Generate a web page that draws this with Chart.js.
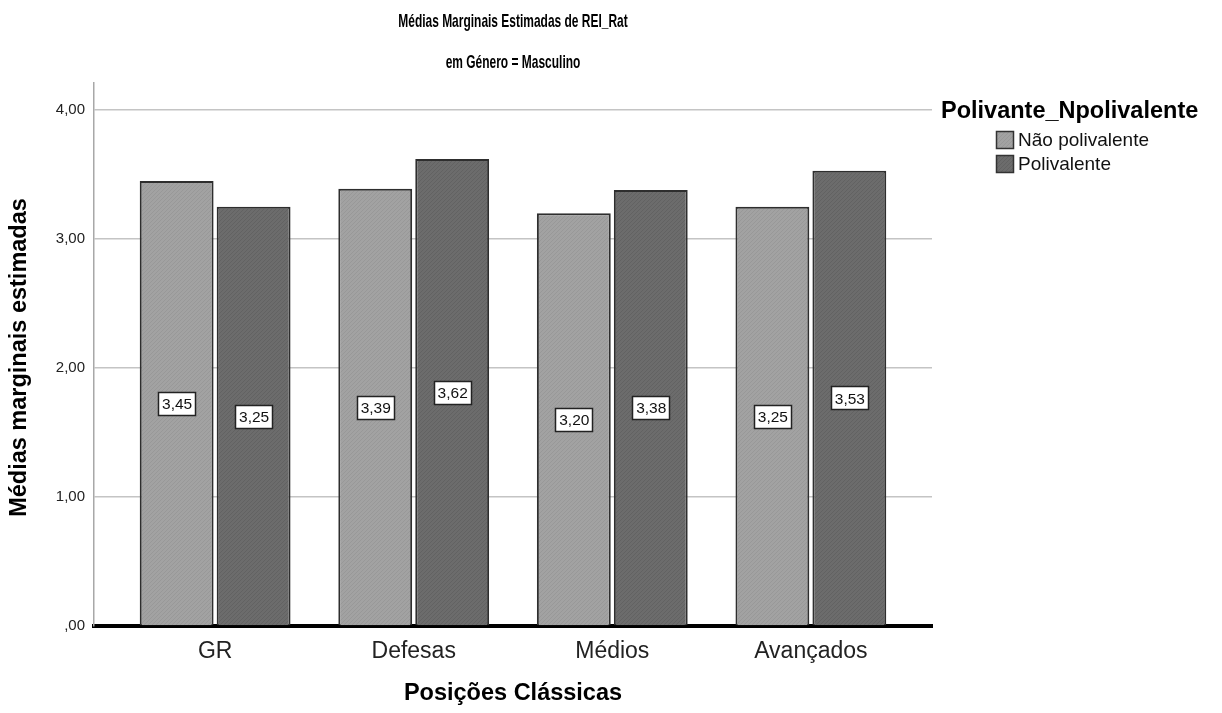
<!DOCTYPE html>
<html lang="pt">
<head>
<meta charset="utf-8">
<title>Médias Marginais Estimadas de REI_Rat</title>
<script src="https://cdn.jsdelivr.net/npm/chart.js@4.4.1/dist/chart.umd.min.js"></script>
<style>
  html, body { margin: 0; padding: 0; background: #ffffff; }
  #wrap { width: 1222px; height: 713px; }
</style>
</head>
<body>
<div id="wrap"><canvas id="chart" width="1222" height="713"></canvas></div>
<script>
// Posições clássicas (eixo X)
const categories = ['GR', 'Defesas', 'Médios', 'Avançados'];
// Médias marginais estimadas por grupo
const naoPolivalente = [3.45, 3.39, 3.20, 3.25];
const polivalente = [3.25, 3.62, 3.38, 3.53];
const seriesNames = ['Não polivalente', 'Polivalente'];
const yTickValues = [0, 1, 2, 3, 4];

const FONT = '"Liberation Sans", Arial, sans-serif';

// Fine stippled fill, like the SPSS bar texture
function stipple(base, alt) {
  const c = document.createElement('canvas');
  c.width = 4; c.height = 4;
  const g = c.getContext('2d');
  g.fillStyle = base; g.fillRect(0, 0, 4, 4);
  g.fillStyle = alt;
  g.fillRect(0, 0, 1, 1); g.fillRect(2, 2, 1, 1);
  g.fillRect(3, 1, 1, 1); g.fillRect(1, 3, 1, 1);
  return g.createPattern(c, 'repeat');
}
const lightFill = stipple('#a2a2a2', '#989898');
const darkFill = stipple('#6c6c6c', '#626262');

const fmt = v => (v === 0 ? ',00' : v.toFixed(2).replace('.', ','));
const toPoints = arr => arr.map((v, i) => ({ x: i, y: v }));

// Value boxes in the middle of each bar
const valueBoxes = {
  id: 'valueBoxes',
  afterDatasetsDraw(chart) {
    const ctx = chart.ctx;
    ctx.save();
    ctx.font = '15.5px ' + FONT;
    ctx.textAlign = 'center';
    ctx.textBaseline = 'middle';
    chart.data.datasets.forEach((ds, di) => {
      const meta = chart.getDatasetMeta(di);
      meta.data.forEach((bar, i) => {
        const v = ds.data[i].y;
        const cy = (bar.y + bar.base) / 2;
        const w = 37, h = 23;
        const bx = Math.round(bar.x - w / 2) + 0.5, by = Math.round(cy - h / 2) + 0.5;
        ctx.fillStyle = '#ffffff';
        ctx.fillRect(bx, by, w, h);
        ctx.strokeStyle = '#222222';
        ctx.lineWidth = 1.5;
        ctx.strokeRect(bx, by, w, h);
        ctx.fillStyle = '#111111';
        ctx.fillText(fmt(v), bar.x + 0.5, cy + 1.5);
      });
    });
    ctx.restore();
  }
};

// Titles, axis titles and legend
const chartText = {
  id: 'chartText',
  afterDraw(chart) {
    const ctx = chart.ctx;
    const a = chart.chartArea;
    const cx = (a.left + a.right) / 2;
    ctx.save();
    ctx.fillStyle = '#000000';
    ctx.textBaseline = 'middle';
    ctx.textAlign = 'center';

    // condensed title lines
    ctx.font = 'bold 19px ' + FONT;
    [['Médias Marginais Estimadas de REI_Rat', 22], ['em Género = Masculino', 63]].forEach(([t, y]) => {
      ctx.save();
      ctx.translate(cx, y);
      ctx.scale(0.63, 1);
      ctx.fillText(t, 0, 0);
      ctx.restore();
    });

    ctx.font = 'bold 23.5px ' + FONT;
    ctx.fillText('Posições Clássicas', cx, 694);

    ctx.save();
    ctx.translate(20, (a.top + a.bottom) / 2 + 3);
    ctx.rotate(-Math.PI / 2);
    ctx.fillText('Médias marginais estimadas', 0, 0);
    ctx.restore();

    // legend
    ctx.textAlign = 'left';
    ctx.font = 'bold 23.5px ' + FONT;
    ctx.fillText('Polivante_Npolivalente', 941, 112);
    ctx.font = '19px ' + FONT;
    chart.data.datasets.forEach((ds, i) => {
      const y = 131 + i * 24;
      ctx.fillStyle = ds.backgroundColor;
      ctx.fillRect(996, y, 17, 17);
      ctx.strokeStyle = '#333333';
      ctx.lineWidth = 1.5;
      ctx.strokeRect(996.5, y + 0.5, 17, 17);
      ctx.fillStyle = '#111111';
      ctx.fillText(ds.label, 1018, y + 9.5);
    });
    ctx.restore();
  }
};

new Chart(document.getElementById('chart'), {
  type: 'bar',
  data: {
    datasets: [
      { label: seriesNames[0], data: toPoints(naoPolivalente), backgroundColor: lightFill,
        borderColor: '#2e2e2e', borderWidth: 2 },
      { label: seriesNames[1], data: toPoints(polivalente), backgroundColor: darkFill,
        borderColor: '#2e2e2e', borderWidth: 2 }
    ]
  },
  options: {
    responsive: false,
    animation: false,
    categoryPercentage: 0.775,
    barPercentage: 0.96,
    layout: { padding: { top: 83, right: 290, left: 0, bottom: 0 } },
    plugins: {
      legend: { display: false },
      title: { display: false },
      tooltip: { enabled: false }
    },
    scales: {
      x: {
        type: 'linear',
        offset: false,
        min: -0.61,
        max: 3.61,
        afterBuildTicks: s => { s.ticks = categories.map((_, i) => ({ value: i })); },
        afterFit: s => { s.height = 87; },
        ticks: {
          autoSkip: false,
          maxRotation: 0,
          padding: 12,
          color: '#222222',
          font: { family: FONT, size: 23 },
          callback: v => categories[v]
        },
        grid: { display: false, drawTicks: false, offset: false },
        border: { display: true, color: '#000000', width: 4 }
      },
      y: {
        min: 0,
        max: 4.21,
        afterBuildTicks: s => { s.ticks = yTickValues.map(v => ({ value: v })); },
        afterFit: s => { s.width = 94; },
        ticks: {
          padding: 9,
          color: '#222222',
          font: { family: FONT, size: 15 },
          callback: v => fmt(v)
        },
        grid: { color: '#c4c4c4', lineWidth: 1.5, drawTicks: false },
        border: { display: true, color: '#a8a8a8', width: 1.5 }
      }
    }
  },
  plugins: [valueBoxes, chartText]
});
</script>
</body>
</html>
